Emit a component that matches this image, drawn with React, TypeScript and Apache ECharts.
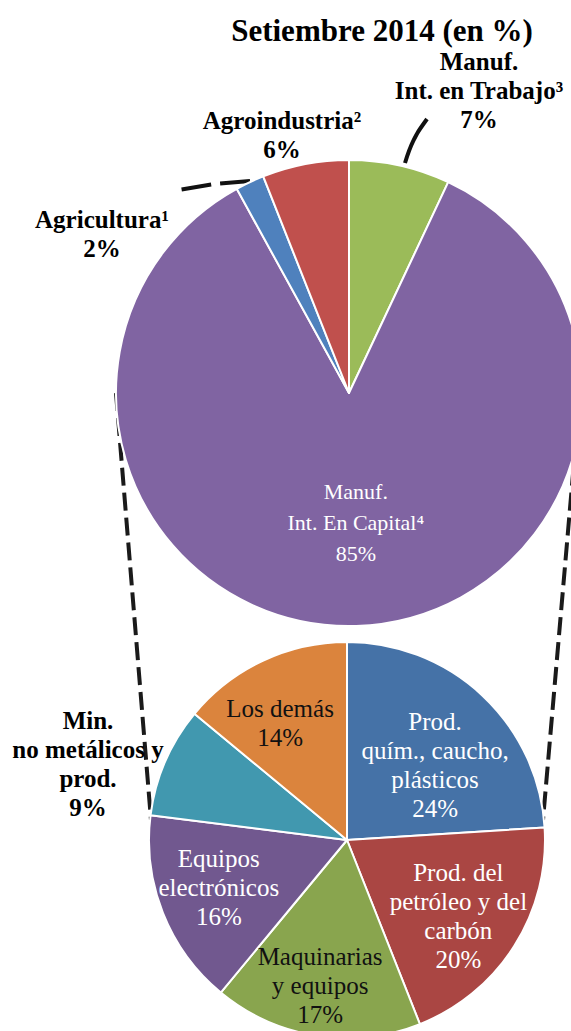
import React, { useEffect, useRef } from "react";
import * as echarts from "echarts";

// ---------- data ----------
const chartTitle = "Setiembre 2014 (en %)";

const topNames = [
  "Manuf.\nInt. en Trabajo³",
  "Manuf.\nInt. En Capital⁴",
  "Agricultura¹",
  "Agroindustria²",
];
const topValues = [7, 85, 2, 6];
const topColors = ["#9BBB59", "#8064A2", "#4F81BD", "#C0504D"];

const bottomNames = [
  "Prod.\nquím., caucho,\nplásticos",
  "Prod. del\npetróleo y del\ncarbón",
  "Maquinarias\ny equipos",
  "Equipos\nelectrónicos",
  "Min.\nno metálicos y\nprod.",
  "Los demás",
];
const bottomValues = [24, 20, 17, 16, 9, 14];
const bottomColors = ["#4572A7", "#AA4643", "#89A54E", "#71588F", "#4198AF", "#DB843D"];

// ---------- layout (positions / styles) ----------
const W = 571;
const H = 1031;
const TOP = { cx: 349, cy: 393, r: 233 };
const BOT = { cx: 347, cy: 840, r: 198 };
const SERIF = "Liberation Serif";

// inside labels: [radius factor, angle shift in degrees]; outside: fixed [x, y]
const topInside: Record<number, [number, number]> = { 1: [0.558, -1.2] };
const topFixed: Record<number, [number, number]> = { 0: [479, 90], 2: [102, 234], 3: [282, 135] };
const topLines: Record<number, number[][]> = {
  0: [[405, 163], [412, 140], [427, 119]],
  2: [[250, 181], [214, 184], [178, 190]],
};
const botInside: Record<number, [number, number]> = {
  0: [0.584, 6.4],
  1: [0.68, 1.8],
  2: [0.745, 1.5],
  3: [0.69, 1.4],
  5: [0.68, -4.6],
};
const botFixed: Record<number, [number, number]> = { 4: [88, 764] };

function midAngle(values: number[], i: number) {
  const total = values.reduce((a, b) => a + b, 0);
  let before = 0;
  for (let k = 0; k < i; k++) before += values[k];
  return ((before + values[i] / 2) / total) * 360;
}

function makeLayout(values: number[], geo: { cx: number; cy: number; r: number }, inside: Record<number, [number, number]>, fixed: Record<number, [number, number]>, lines: Record<number, number[][]>) {
  return (p: any) => {
    const i = p.dataIndex;
    if (fixed[i]) {
      const o: any = { x: fixed[i][0], y: fixed[i][1], align: "center", verticalAlign: "middle" };
      if (lines[i]) o.labelLinePoints = lines[i];
      return o;
    }
    const [k, da] = inside[i] || [0.6, 0];
    const a = ((midAngle(values, i) + da) * Math.PI) / 180;
    return {
      x: geo.cx + k * geo.r * Math.sin(a),
      y: geo.cy - k * geo.r * Math.cos(a),
      align: "center",
      verticalAlign: "middle",
    };
  };
}

const boldOutside = {
  position: "outside",
  color: "#000",
  fontWeight: "bold",
  fontSize: 25,
  lineHeight: 29,
  fontFamily: SERIF,
};

export default function App() {
  const ref = useRef<HTMLDivElement>(null);

  useEffect(() => {
    if (!ref.current) return;
    const chart = echarts.init(ref.current, undefined, { renderer: "svg" });

    const topData = topNames.map((name, i) => {
      const item: any = { name, value: topValues[i], itemStyle: { color: topColors[i] } };
      if (i === 1) {
        item.label = { position: "inside", color: "#fff", fontSize: 22, lineHeight: 31, fontFamily: SERIF };
        item.labelLine = { show: false };
      } else {
        item.label = { ...boldOutside };
        if (i === 2) {
          item.labelLine = { show: true, lineStyle: { color: "#111", width: 4, type: [30, 9] } };
        } else if (i === 0) {
          item.labelLine = { show: true, smooth: 0.4, lineStyle: { color: "#111", width: 4 } };
        } else {
          item.labelLine = { show: false };
        }
      }
      return item;
    });

    const botData = bottomNames.map((name, i) => {
      const item: any = { name, value: bottomValues[i], itemStyle: { color: bottomColors[i] } };
      if (i === 4) {
        item.label = { ...boldOutside };
        item.labelLine = { show: false };
      } else {
        const dark = i === 2 || i === 5;
        item.label = {
          position: "inside",
          color: dark ? "#111" : "#fff",
          fontSize: 25,
          lineHeight: 29,
          fontFamily: SERIF,
        };
        item.labelLine = { show: false };
      }
      return item;
    });

    const lineStyle = { stroke: "#1a1a1a", lineWidth: 4, lineDash: [18, 7] };

    chart.setOption({
      animation: false,
      backgroundColor: "#fff",
      textStyle: { fontFamily: SERIF },
      title: {
        text: chartTitle,
        left: 377,
        top: 10,
        textAlign: "center",
        textStyle: { fontFamily: SERIF, fontWeight: "bold", fontSize: 31, color: "#000" },
      },
      graphic: [
        {
          type: "line",
          z: 0,
          shape: { x1: TOP.cx - TOP.r, y1: TOP.cy, x2: BOT.cx - BOT.r + 2, y2: BOT.cy - 20 },
          style: lineStyle,
        },
        {
          type: "line",
          z: 0,
          shape: { x1: TOP.cx + TOP.r - 2, y1: TOP.cy, x2: BOT.cx + BOT.r - 2, y2: BOT.cy - 20 },
          style: lineStyle,
        },
      ],
      series: [
        {
          type: "pie",
          z: 3,
          center: [TOP.cx, TOP.cy],
          radius: [0, TOP.r],
          startAngle: 90,
          clockwise: true,
          avoidLabelOverlap: false,
          minShowLabelAngle: 0,
          emphasis: { disabled: true },
          itemStyle: { borderColor: "#fff", borderWidth: 2 },
          label: { show: true, formatter: "{b}\n{c}%", fontFamily: SERIF },
          labelLayout: makeLayout(topValues, TOP, topInside, topFixed, topLines),
          data: topData,
        },
        {
          type: "pie",
          z: 3,
          center: [BOT.cx, BOT.cy],
          radius: [0, BOT.r],
          startAngle: 90,
          clockwise: true,
          avoidLabelOverlap: false,
          minShowLabelAngle: 0,
          emphasis: { disabled: true },
          itemStyle: { borderColor: "#fff", borderWidth: 2 },
          label: { show: true, formatter: "{b}\n{c}%", fontFamily: SERIF },
          labelLayout: makeLayout(bottomValues, BOT, botInside, botFixed, {}),
          data: botData,
        },
      ],
    });

    return () => chart.dispose();
  }, []);

  return (
    <div
      ref={ref}
      style={{ position: "fixed", left: 0, top: 0, width: W, height: H, background: "#fff" }}
    />
  );
}
